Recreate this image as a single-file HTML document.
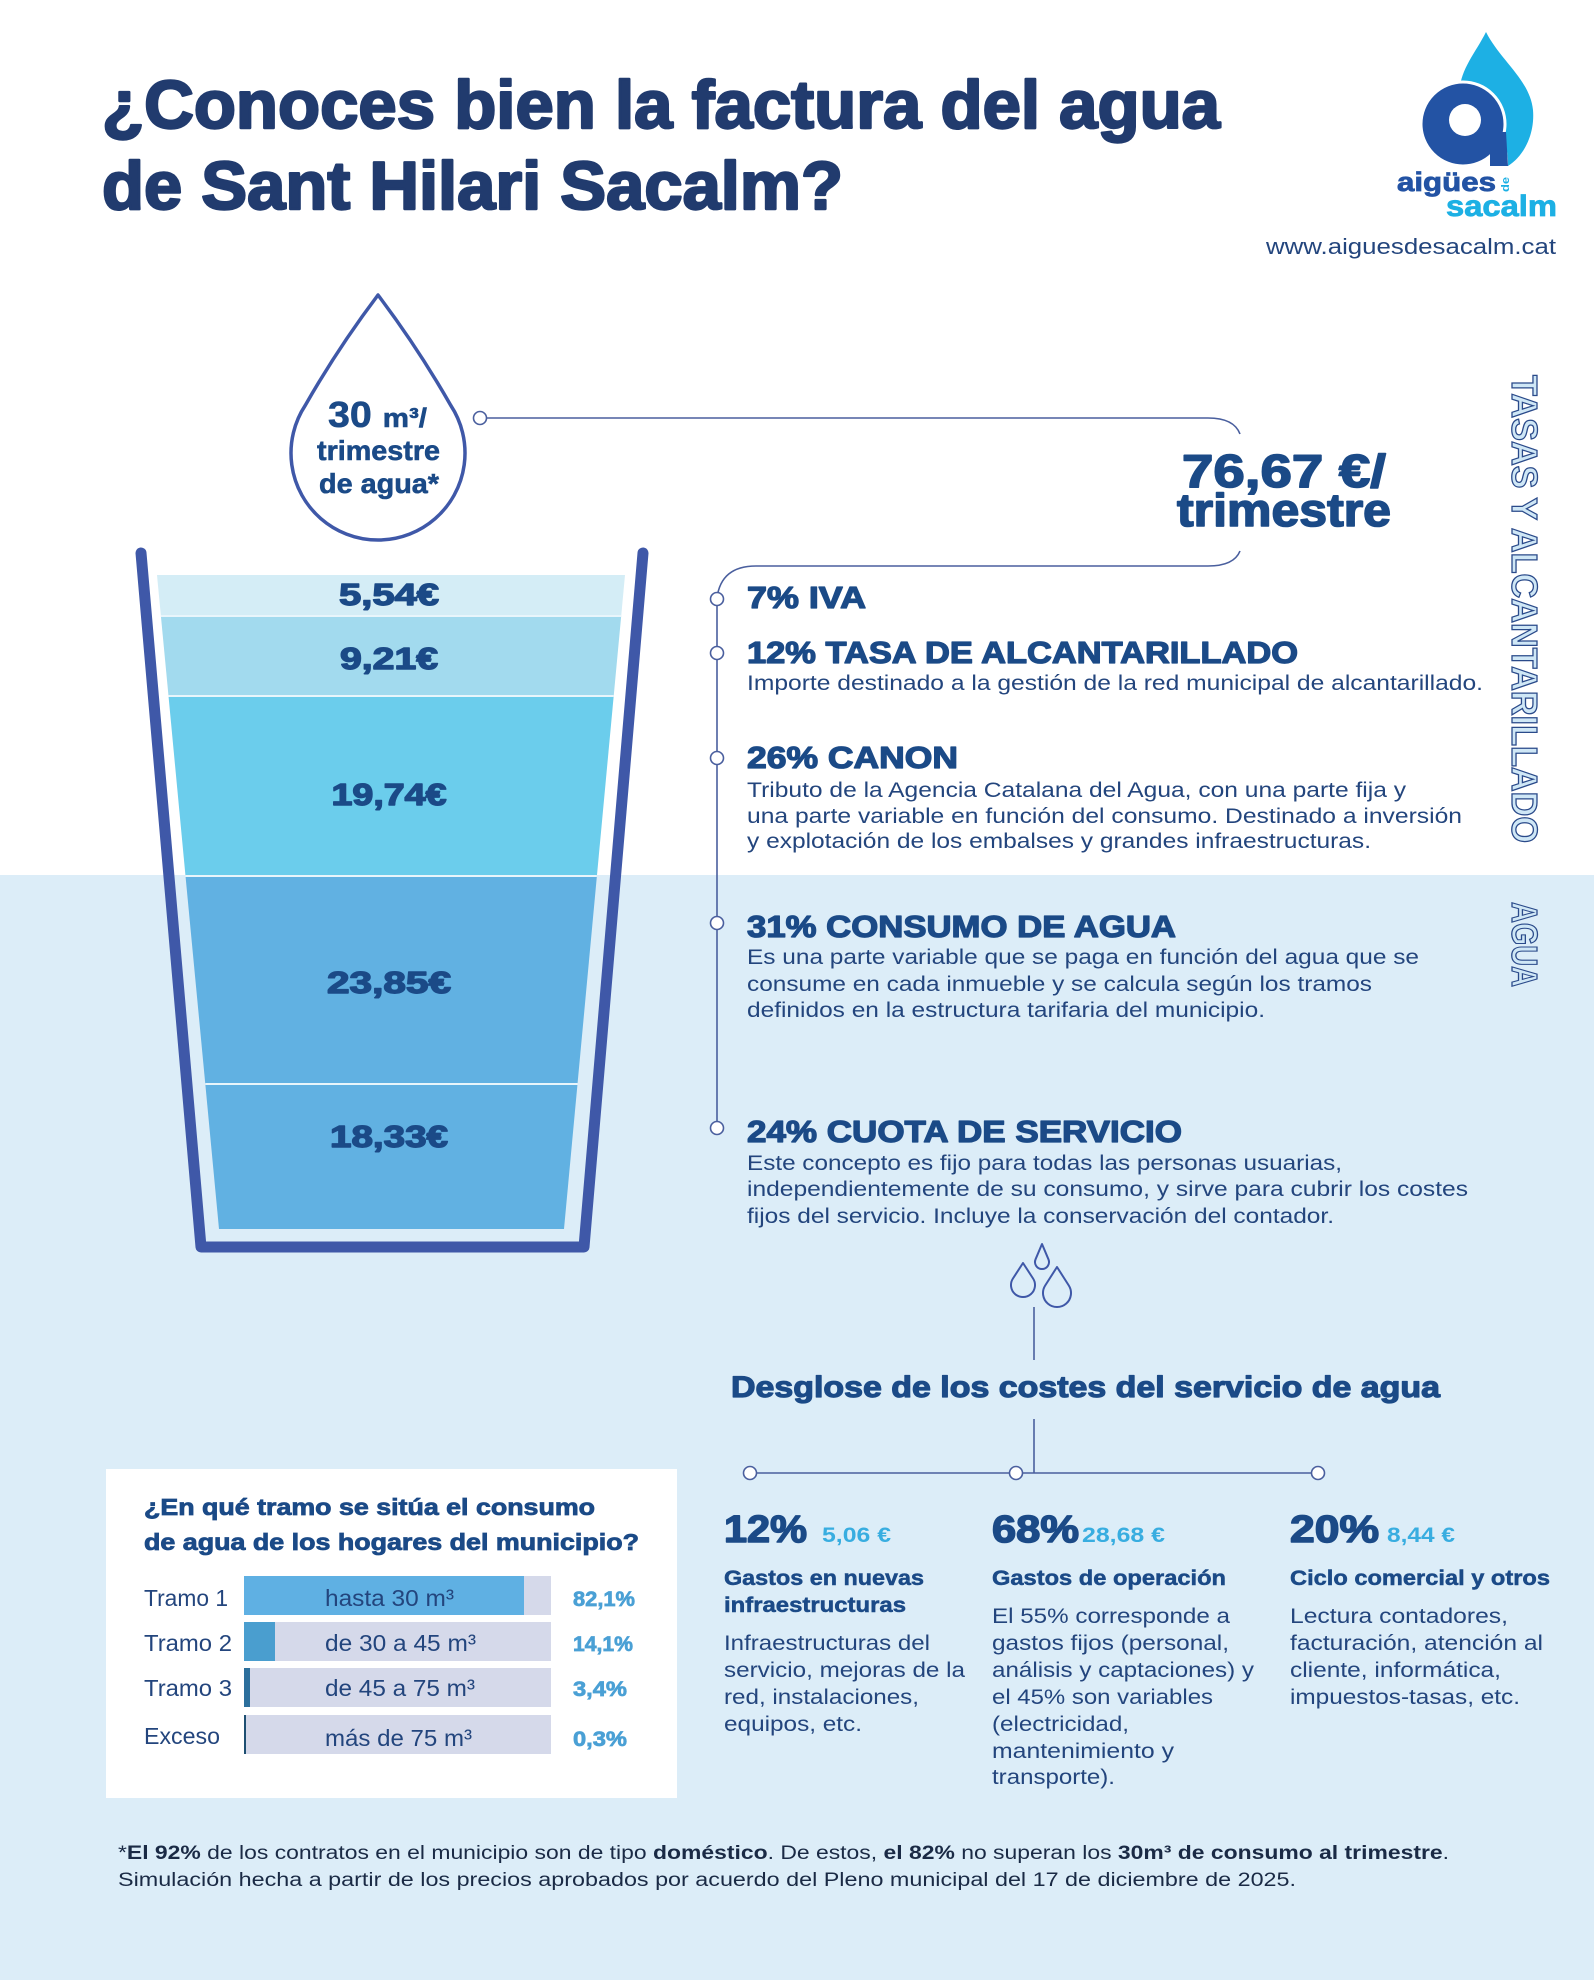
<!DOCTYPE html>
<html><head><meta charset="utf-8"><style>
html,body{margin:0;padding:0;background:#fff;}
svg{display:block;}
text{font-family:"Liberation Sans",sans-serif;}
</style></head><body>
<svg width="1594" height="1980" viewBox="0 0 1594 1980" xmlns="http://www.w3.org/2000/svg">
<rect x="0" y="0" width="1594" height="1980" fill="#ffffff"/>
<rect x="0" y="875" width="1594" height="1105" fill="#dcedf8"/>

<!-- Title -->
<g fill="#213b6e" stroke="#213b6e" stroke-width="2.4" stroke-linejoin="round" font-weight="bold" font-size="68">
<text x="102" y="128" textLength="1118" lengthAdjust="spacingAndGlyphs">¿Conoces bien la factura del agua</text>
<text x="102" y="209" textLength="741" lengthAdjust="spacingAndGlyphs">de Sant Hilari Sacalm?</text>
</g>

<!-- Logo -->
<path d="M1486,32 C1476,52 1460,70 1460,90 C1488,104 1509,132 1508,166 C1524,156 1535,134 1533,110 C1530,80 1500,60 1486,32 Z" fill="#1db0e4"/>
<circle cx="1463" cy="124" r="42" fill="#2353a4" stroke="#ffffff" stroke-width="3"/>
<path d="M1490,132 L1506,132 L1508,166 L1490,166 Z" fill="#2353a4"/>
<circle cx="1465" cy="120" r="16" fill="#ffffff"/>
<text x="1397" y="191" font-size="27" font-weight="bold" fill="#2353a4" stroke="#2353a4" stroke-width="0.8" textLength="99" lengthAdjust="spacingAndGlyphs">aigües</text>
<text transform="translate(1509,192) rotate(-90)" font-size="11" font-weight="bold" fill="#1db0e4" textLength="15" lengthAdjust="spacingAndGlyphs">de</text>
<text x="1446" y="216" font-size="30" font-weight="bold" fill="#1db0e4" stroke="#1db0e4" stroke-width="0.8" textLength="111" lengthAdjust="spacingAndGlyphs">sacalm</text>
<text x="1266" y="254" font-size="22" fill="#23457d" textLength="290" lengthAdjust="spacingAndGlyphs">www.aiguesdesacalm.cat</text>

<!-- Big drop -->
<path d="M378,295 Q338,348 305.4,405.1 A87,87 0 1,0 450.6,405.1 Q418,348 378,295 Z" fill="#ffffff" stroke="#3f58a8" stroke-width="3.5" stroke-linejoin="round"/>
<g fill="#1b4a87" stroke="#1b4a87" stroke-width="0.6" font-weight="bold">
<text x="328" y="427" textLength="99" lengthAdjust="spacingAndGlyphs"><tspan font-size="36">30 </tspan><tspan font-size="27">m³/</tspan></text>
<text x="317" y="460" font-size="28" textLength="123" lengthAdjust="spacingAndGlyphs">trimestre</text>
<text x="319" y="493" font-size="28" textLength="120" lengthAdjust="spacingAndGlyphs">de agua*</text>
</g>

<!-- Connector lines -->
<g fill="none" stroke="#4a5f9e" stroke-width="1.6">
<path d="M486,418 H1208 Q1234,418 1240,434"/>
<path d="M1240,551 Q1234,566 1208,566 H756 Q721,566 717,598 V1128"/>
<line x1="1034" y1="1307" x2="1034" y2="1360"/>
<line x1="1034" y1="1419" x2="1034" y2="1473"/>
<line x1="750" y1="1473" x2="1318" y2="1473"/>
</g>
<g fill="#ffffff" stroke="#4a5f9e" stroke-width="1.6">
<circle cx="480" cy="418" r="6.5"/>
<circle cx="717" cy="599" r="6.5"/>
<circle cx="717" cy="653" r="6.5"/>
<circle cx="717" cy="758" r="6.5"/>
<circle cx="717" cy="923" r="6.5"/>
<circle cx="717" cy="1128" r="6.5"/>
<circle cx="750" cy="1473" r="6.5"/>
<circle cx="1016" cy="1473" r="6.5"/>
<circle cx="1318" cy="1473" r="6.5"/>
</g>

<!-- Total -->
<g fill="#1b4a87" stroke="#1b4a87" stroke-width="1.6" stroke-linejoin="round" font-weight="bold" font-size="46">
<text x="1182" y="487" textLength="204" lengthAdjust="spacingAndGlyphs">76,67 €/</text>
<text x="1177" y="526" textLength="214" lengthAdjust="spacingAndGlyphs">trimestre</text>
</g>

<!-- Vertical labels -->
<g fill="#cfe7f6" stroke="#2a4a8a" stroke-width="1.3" font-weight="bold" font-size="36">
<text transform="translate(1512,375) rotate(90)" textLength="468" lengthAdjust="spacingAndGlyphs">TASAS Y ALCANTARILLADO</text>
<text transform="translate(1512,902) rotate(90)" textLength="85" lengthAdjust="spacingAndGlyphs">AGUA</text>
</g>

<!-- Glass water layers -->
<polygon points="157,575 625,575 621.2,616 160.9,616" fill="#d4edf6"/>
<polygon points="160.9,616 621.2,616 613.7,696 168.5,696" fill="#a2daee"/>
<polygon points="168.5,696 613.7,696 596.9,876 185.5,876" fill="#6bcdec"/>
<polygon points="185.5,876 596.9,876 577.5,1084 205.3,1084" fill="#61b1e2"/>
<polygon points="205.3,1084 577.5,1084 564,1229 219,1229" fill="#61b1e2"/>
<g stroke="#e8f5fb" stroke-width="2">
<line x1="160.9" y1="616" x2="621.2" y2="616"/>
<line x1="168.5" y1="696" x2="613.7" y2="696"/>
<line x1="185.5" y1="876" x2="596.9" y2="876"/>
<line x1="205.3" y1="1084" x2="577.5" y2="1084"/>
</g>
<polyline points="141,553 201,1247 584,1247 643,553" fill="none" stroke="#3f58a8" stroke-width="11" stroke-linejoin="round" stroke-linecap="round"/>
<g fill="#1b4a87" stroke="#1b4a87" stroke-width="1.4" stroke-linejoin="round" font-weight="bold" font-size="31" text-anchor="middle">
<text x="389" y="605" textLength="100" lengthAdjust="spacingAndGlyphs">5,54€</text>
<text x="389" y="669" textLength="98" lengthAdjust="spacingAndGlyphs">9,21€</text>
<text x="389" y="805" textLength="115" lengthAdjust="spacingAndGlyphs">19,74€</text>
<text x="389" y="993" textLength="124" lengthAdjust="spacingAndGlyphs">23,85€</text>
<text x="389" y="1147" textLength="118" lengthAdjust="spacingAndGlyphs">18,33€</text>
</g>

<!-- Items -->
<g fill="#1b4a87" stroke="#1b4a87" stroke-width="1.3" stroke-linejoin="round" font-weight="bold" font-size="31">
<text x="747" y="608" textLength="119" lengthAdjust="spacingAndGlyphs">7% IVA</text>
<text x="747" y="663" textLength="551" lengthAdjust="spacingAndGlyphs">12% TASA DE ALCANTARILLADO</text>
<text x="747" y="768" textLength="211" lengthAdjust="spacingAndGlyphs">26% CANON</text>
<text x="747" y="937" textLength="429" lengthAdjust="spacingAndGlyphs">31% CONSUMO DE AGUA</text>
<text x="747" y="1142" textLength="435" lengthAdjust="spacingAndGlyphs">24% CUOTA DE SERVICIO</text>
</g>
<g fill="#23457d" font-size="21">
<text x="747" y="690" textLength="736" lengthAdjust="spacingAndGlyphs">Importe destinado a la gestión de la red municipal de alcantarillado.</text>
<text x="747" y="797" textLength="659" lengthAdjust="spacingAndGlyphs">Tributo de la Agencia Catalana del Agua, con una parte fija y</text>
<text x="747" y="823" textLength="715" lengthAdjust="spacingAndGlyphs">una parte variable en función del consumo. Destinado a inversión</text>
<text x="747" y="848" textLength="624" lengthAdjust="spacingAndGlyphs">y explotación de los embalses y grandes infraestructuras.</text>
<text x="747" y="964" textLength="672" lengthAdjust="spacingAndGlyphs">Es una parte variable que se paga en función del agua que se</text>
<text x="747" y="991" textLength="625" lengthAdjust="spacingAndGlyphs">consume en cada inmueble y se calcula según los tramos</text>
<text x="747" y="1017" textLength="518" lengthAdjust="spacingAndGlyphs">definidos en la estructura tarifaria del municipio.</text>
<text x="747" y="1170" textLength="595" lengthAdjust="spacingAndGlyphs">Este concepto es fijo para todas las personas usuarias,</text>
<text x="747" y="1196" textLength="721" lengthAdjust="spacingAndGlyphs">independientemente de su consumo, y sirve para cubrir los costes</text>
<text x="747" y="1223" textLength="587" lengthAdjust="spacingAndGlyphs">fijos del servicio. Incluye la conservación del contador.</text>
</g>

<!-- small drops -->
<g fill="none" stroke="#3f58a8" stroke-width="2" stroke-linejoin="round">
<path d="M1042,1244 L1035.55,1259.3 A7,7 0 1,0 1048.45,1259.3 Z"/>
<path d="M1023,1263 L1012.94,1278.5 A12,12 0 1,0 1033.06,1278.5 Z"/>
<path d="M1057,1267 L1045.2,1285.5 A14,14 0 1,0 1068.8,1285.5 Z"/>
</g>

<!-- Desglose -->
<text x="731" y="1397" font-size="30" font-weight="bold" fill="#1b4a87" stroke="#1b4a87" stroke-width="1.2" stroke-linejoin="round" textLength="709" lengthAdjust="spacingAndGlyphs">Desglose de los costes del servicio de agua</text>

<g fill="#1b4a87" stroke="#1b4a87" stroke-width="1.5" stroke-linejoin="round" font-weight="bold" font-size="38">
<text x="724" y="1542" textLength="83" lengthAdjust="spacingAndGlyphs">12%</text>
<text x="992" y="1542" textLength="87" lengthAdjust="spacingAndGlyphs">68%</text>
<text x="1290" y="1542" textLength="89" lengthAdjust="spacingAndGlyphs">20%</text>
</g>
<g fill="#38ade0" font-weight="bold" font-size="21">
<text x="822" y="1542" textLength="69" lengthAdjust="spacingAndGlyphs">5,06 €</text>
<text x="1082" y="1542" textLength="83" lengthAdjust="spacingAndGlyphs">28,68 €</text>
<text x="1387" y="1542" textLength="68" lengthAdjust="spacingAndGlyphs">8,44 €</text>
</g>
<g fill="#1b4a87" stroke="#1b4a87" stroke-width="0.5" font-weight="bold" font-size="21">
<text x="724" y="1585" textLength="200" lengthAdjust="spacingAndGlyphs">Gastos en nuevas</text>
<text x="724" y="1612" textLength="182" lengthAdjust="spacingAndGlyphs">infraestructuras</text>
<text x="992" y="1585" textLength="234" lengthAdjust="spacingAndGlyphs">Gastos de operación</text>
<text x="1290" y="1585" textLength="260" lengthAdjust="spacingAndGlyphs">Ciclo comercial y otros</text>
</g>
<g fill="#23457d" font-size="21">
<text x="724" y="1650" textLength="206" lengthAdjust="spacingAndGlyphs">Infraestructuras del</text>
<text x="724" y="1677" textLength="241" lengthAdjust="spacingAndGlyphs">servicio, mejoras de la</text>
<text x="724" y="1704" textLength="195" lengthAdjust="spacingAndGlyphs">red, instalaciones,</text>
<text x="724" y="1731" textLength="138" lengthAdjust="spacingAndGlyphs">equipos, etc.</text>
<text x="992" y="1623" textLength="238" lengthAdjust="spacingAndGlyphs">El 55% corresponde a</text>
<text x="992" y="1650" textLength="237" lengthAdjust="spacingAndGlyphs">gastos fijos (personal,</text>
<text x="992" y="1677" textLength="262" lengthAdjust="spacingAndGlyphs">análisis y captaciones) y</text>
<text x="992" y="1704" textLength="221" lengthAdjust="spacingAndGlyphs">el 45% son variables</text>
<text x="992" y="1731" textLength="137" lengthAdjust="spacingAndGlyphs">(electricidad,</text>
<text x="992" y="1758" textLength="182" lengthAdjust="spacingAndGlyphs">mantenimiento y</text>
<text x="992" y="1784" textLength="123" lengthAdjust="spacingAndGlyphs">transporte).</text>
<text x="1290" y="1623" textLength="218" lengthAdjust="spacingAndGlyphs">Lectura contadores,</text>
<text x="1290" y="1650" textLength="253" lengthAdjust="spacingAndGlyphs">facturación, atención al</text>
<text x="1290" y="1677" textLength="211" lengthAdjust="spacingAndGlyphs">cliente, informática,</text>
<text x="1290" y="1704" textLength="230" lengthAdjust="spacingAndGlyphs">impuestos-tasas, etc.</text>
</g>

<!-- Tramo table -->
<rect x="106" y="1469" width="571" height="329" fill="#ffffff"/>
<g fill="#1b4a87" stroke="#1b4a87" stroke-width="0.8" font-weight="bold" font-size="23">
<text x="144" y="1515" textLength="451" lengthAdjust="spacingAndGlyphs">¿En qué tramo se sitúa el consumo</text>
<text x="144" y="1550" textLength="495" lengthAdjust="spacingAndGlyphs">de agua de los hogares del municipio?</text>
</g>
<g fill="#d5d9ea">
<rect x="244" y="1576" width="307" height="39"/>
<rect x="244" y="1622" width="307" height="39"/>
<rect x="244" y="1668" width="307" height="39"/>
<rect x="244" y="1715" width="307" height="39"/>
</g>
<rect x="244" y="1576" width="280" height="39" fill="#5fb0e3"/>
<rect x="244" y="1622" width="31" height="39" fill="#4a9ecf"/>
<rect x="244" y="1668" width="6" height="39" fill="#2c6f9c"/>
<rect x="244" y="1715" width="2" height="39" fill="#1e4f72"/>
<g fill="#23457d" font-size="23">
<text x="144" y="1606" textLength="84" lengthAdjust="spacingAndGlyphs">Tramo 1</text>
<text x="144" y="1651" textLength="88" lengthAdjust="spacingAndGlyphs">Tramo 2</text>
<text x="144" y="1696" textLength="88" lengthAdjust="spacingAndGlyphs">Tramo 3</text>
<text x="144" y="1744" textLength="76" lengthAdjust="spacingAndGlyphs">Exceso</text>
<text x="325" y="1606" textLength="129" lengthAdjust="spacingAndGlyphs">hasta 30 m³</text>
<text x="325" y="1651" textLength="151" lengthAdjust="spacingAndGlyphs">de 30 a 45 m³</text>
<text x="325" y="1696" textLength="150" lengthAdjust="spacingAndGlyphs">de 45 a 75 m³</text>
<text x="325" y="1746" textLength="147" lengthAdjust="spacingAndGlyphs">más de 75 m³</text>
</g>
<g fill="#4aa0d5" stroke="#4aa0d5" stroke-width="0.7" font-weight="bold" font-size="21">
<text x="573" y="1606" textLength="62" lengthAdjust="spacingAndGlyphs">82,1%</text>
<text x="573" y="1651" textLength="60" lengthAdjust="spacingAndGlyphs">14,1%</text>
<text x="573" y="1696" textLength="54" lengthAdjust="spacingAndGlyphs">3,4%</text>
<text x="573" y="1746" textLength="54" lengthAdjust="spacingAndGlyphs">0,3%</text>
</g>

<!-- Footer -->
<g fill="#1a2a45" font-size="19">
<text x="118" y="1859" textLength="1331" lengthAdjust="spacingAndGlyphs">*<tspan font-weight="bold">El 92%</tspan> de los contratos en el municipio son de tipo <tspan font-weight="bold">doméstico</tspan>. De estos, <tspan font-weight="bold">el 82%</tspan> no superan los <tspan font-weight="bold">30m³ de consumo al trimestre</tspan>.</text>
<text x="118" y="1886" textLength="1178" lengthAdjust="spacingAndGlyphs">Simulación hecha a partir de los precios aprobados por acuerdo del Pleno municipal del 17 de diciembre de 2025.</text>
</g>
</svg>
</body></html>
